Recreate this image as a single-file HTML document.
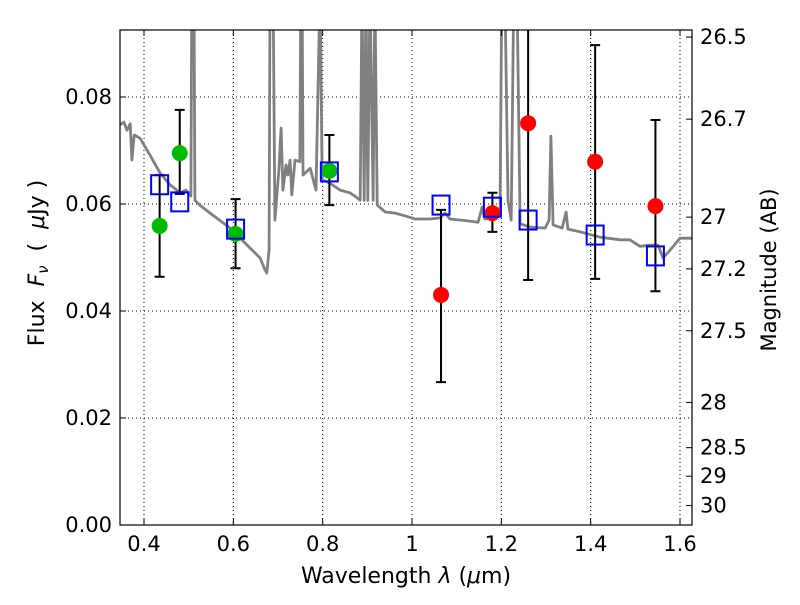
<!DOCTYPE html>
<html><head><meta charset="utf-8"><style>
body{margin:0;background:#fff}
svg{font-family:"DejaVu Sans","Liberation Sans",sans-serif}
</style></head><body>
<svg id="chart" width="800" height="600" viewBox="0 0 800 600">
<defs><clipPath id="pc"><rect x="120" y="30" width="572" height="495"/></clipPath></defs>
<g id="grid"></g>
<g id="spec" clip-path="url(#pc)"></g>
<g id="marks" clip-path="url(#pc)"></g>
<rect x="120" y="30" width="572" height="495" fill="none" stroke="#000" stroke-width="1.2"/>
<g id="axes"></g>
<text x="406" y="583" font-size="22" text-anchor="middle">Wavelength  <tspan font-style="italic">λ</tspan> (<tspan font-style="italic">μ</tspan>m)</text>
<text transform="translate(44,263) rotate(-90)" font-size="22" text-anchor="middle" xml:space="preserve">Flux  <tspan font-style="italic">F</tspan><tspan font-style="italic" font-size="15" dy="4">ν</tspan><tspan dy="-4">  (  </tspan><tspan font-style="italic">μ</tspan>Jy )</text>
<text transform="translate(776,270) rotate(-90)" font-size="21" text-anchor="middle">Magnitude (AB)</text>
</svg>
<script>
const xTicks=[0.4,0.6,0.8,1.0,1.2,1.4,1.6];
const xTickLabels=["0.4","0.6","0.8","1","1.2","1.4","1.6"];
const yTicks=[0,0.02,0.04,0.06,0.08];
const yTickLabels=["0.00","0.02","0.04","0.06","0.08"];
const magTicks=[26.5,26.7,27,27.2,27.5,28,28.5,29,30];
const magLabels=["26.5","26.7","27","27.2","27.5","28","28.5","29","30"];
const specWave=[0.346,0.355,0.362,0.369,0.373,0.378,0.391,0.413,0.436,0.458,0.481,0.494,0.505,0.507,0.512,0.514,0.525,0.548,0.593,0.637,0.660,0.671,0.675,0.680,0.682,0.689,0.693,0.702,0.707,0.711,0.718,0.722,0.727,0.731,0.738,0.749,0.751,0.754,0.756,0.772,0.785,0.794,0.799,0.816,0.839,0.861,0.872,0.884,0.888,0.893,0.897,0.901,0.906,0.913,0.917,0.922,0.940,0.962,0.984,1.007,1.040,1.063,1.074,1.085,1.130,1.148,1.157,1.163,1.186,1.197,1.201,1.208,1.215,1.222,1.228,1.235,1.242,1.264,1.298,1.307,1.311,1.316,1.336,1.345,1.349,1.376,1.421,1.466,1.488,1.510,1.533,1.551,1.562,1.578,1.600,1.627];
const specFlux=[0.0748,0.0753,0.0738,0.0750,0.0682,0.0729,0.0723,0.0692,0.0658,0.0636,0.0621,0.0626,0.0615,0.1,0.1,0.0607,0.0598,0.0583,0.0555,0.0518,0.0499,0.0477,0.0471,0.0514,0.1,0.1,0.0570,0.0664,0.0742,0.0626,0.0673,0.0654,0.0682,0.0617,0.0682,0.0679,0.1,0.1,0.0654,0.0667,0.0626,0.1,0.0645,0.0639,0.0626,0.0621,0.0615,0.0607,0.1,0.0607,0.1,0.0607,0.1,0.0607,0.1,0.0598,0.0585,0.0583,0.0578,0.0572,0.0572,0.0574,0.0583,0.0572,0.0568,0.0566,0.0594,0.0572,0.0574,0.0579,0.1,0.1,0.0607,0.0570,0.1,0.1,0.0563,0.0557,0.0555,0.0570,0.0727,0.0561,0.0555,0.0585,0.0553,0.0548,0.0538,0.0533,0.0533,0.0521,0.0523,0.0523,0.0499,0.0514,0.0536,0.0536];
const greenWave=[0.435,0.48,0.605,0.815];
const greenFlux=[0.0559,0.0695,0.0544,0.0662];
const greenLo=[0.0464,0.0619,0.0480,0.0598];
const greenHi=[0.0654,0.0776,0.0609,0.0729];
const redWave=[1.065,1.18,1.26,1.41,1.545];
const redFlux=[0.0430,0.0583,0.0751,0.0679,0.0596];
const redLo=[0.0267,0.0548,0.0458,0.0460,0.0437];
const redHi=[0.0589,0.0621,0.1040,0.0897,0.0757];
const modelWave=[0.435,0.48,0.605,0.815,1.065,1.18,1.26,1.41,1.545];
const modelFlux=[0.0636,0.0604,0.0553,0.0660,0.0598,0.0594,0.0570,0.0542,0.0503];

const NS="http://www.w3.org/2000/svg";
const X=v=>144+(v-0.4)*446.67;
const Y=v=>525-v*5350;
function mk(tag,attrs,parent){const e=document.createElementNS(NS,tag);for(const k in attrs)e.setAttribute(k,attrs[k]);parent.appendChild(e);return e;}
const grid=document.getElementById('grid'),axes=document.getElementById('axes'),spec=document.getElementById('spec'),marks=document.getElementById('marks');
xTicks.forEach((t,i)=>{const x=X(t);
 let g=mk('line',{x1:x,x2:x,y1:30,y2:525,stroke:'#000','stroke-width':1,'stroke-dasharray':'1,3'},grid);
 
 mk('line',{x1:x,x2:x,y1:525,y2:519,stroke:'#000'},axes);mk('line',{x1:x,x2:x,y1:30,y2:36,stroke:'#000'},axes);
 let l=mk('text',{x:x,y:551,'font-size':21,'text-anchor':'middle'},axes);l.textContent=xTickLabels[i];
 });
yTicks.forEach((t,i)=>{const y=Y(t);
 let g=mk('line',{x1:120,x2:692,y1:y,y2:y,stroke:'#000','stroke-width':1,'stroke-dasharray':'1,3'},grid);
 
 mk('line',{x1:120,x2:126,y1:y,y2:y,stroke:'#000'},axes);
 let l=mk('text',{x:112,y:y+7,'font-size':21,'text-anchor':'end'},axes);l.textContent=yTickLabels[i];
 });
magTicks.forEach((m,i)=>{const y=Y(Math.pow(10,(23.9-m)/2.5));
 mk('line',{x1:692,x2:686,y1:y,y2:y,stroke:'#000'},axes);
 let l=mk('text',{x:700,y:y+7,'font-size':21},axes);l.textContent=magLabels[i];
 });
let d=specWave.map((w,i)=>(i?'L':'M')+X(w).toFixed(1)+','+Y(specFlux[i]).toFixed(1)).join('');
let sp=mk('path',{d:d,fill:'none',stroke:'#808080','stroke-width':2.8,'stroke-linejoin':'round'},spec);

function err(w,lo,hi){const x=X(w);
 let e=mk('path',{d:`M${x},${Y(lo)}L${x},${Y(hi)}M${x-5},${Y(lo)}L${x+5},${Y(lo)}M${x-5},${Y(hi)}L${x+5},${Y(hi)}`,stroke:'#000','stroke-width':2,fill:'none'},marks);
 }
greenWave.forEach((w,i)=>err(w,greenLo[i],greenHi[i]));
redWave.forEach((w,i)=>err(w,redLo[i],redHi[i]));
greenWave.forEach((w,i)=>{let c=mk('circle',{cx:X(w),cy:Y(greenFlux[i]),r:8,fill:'#00bb00'},marks);
 });
redWave.forEach((w,i)=>{let c=mk('circle',{cx:X(w),cy:Y(redFlux[i]),r:8,fill:'#ff0000'},marks);
 });
modelWave.forEach((w,i)=>{let r=mk('rect',{x:X(w)-8.5,y:Y(modelFlux[i])-9.5,width:17,height:19,fill:'none',stroke:'#0000ff','stroke-width':2},marks);
 });
</script>
</body></html>
